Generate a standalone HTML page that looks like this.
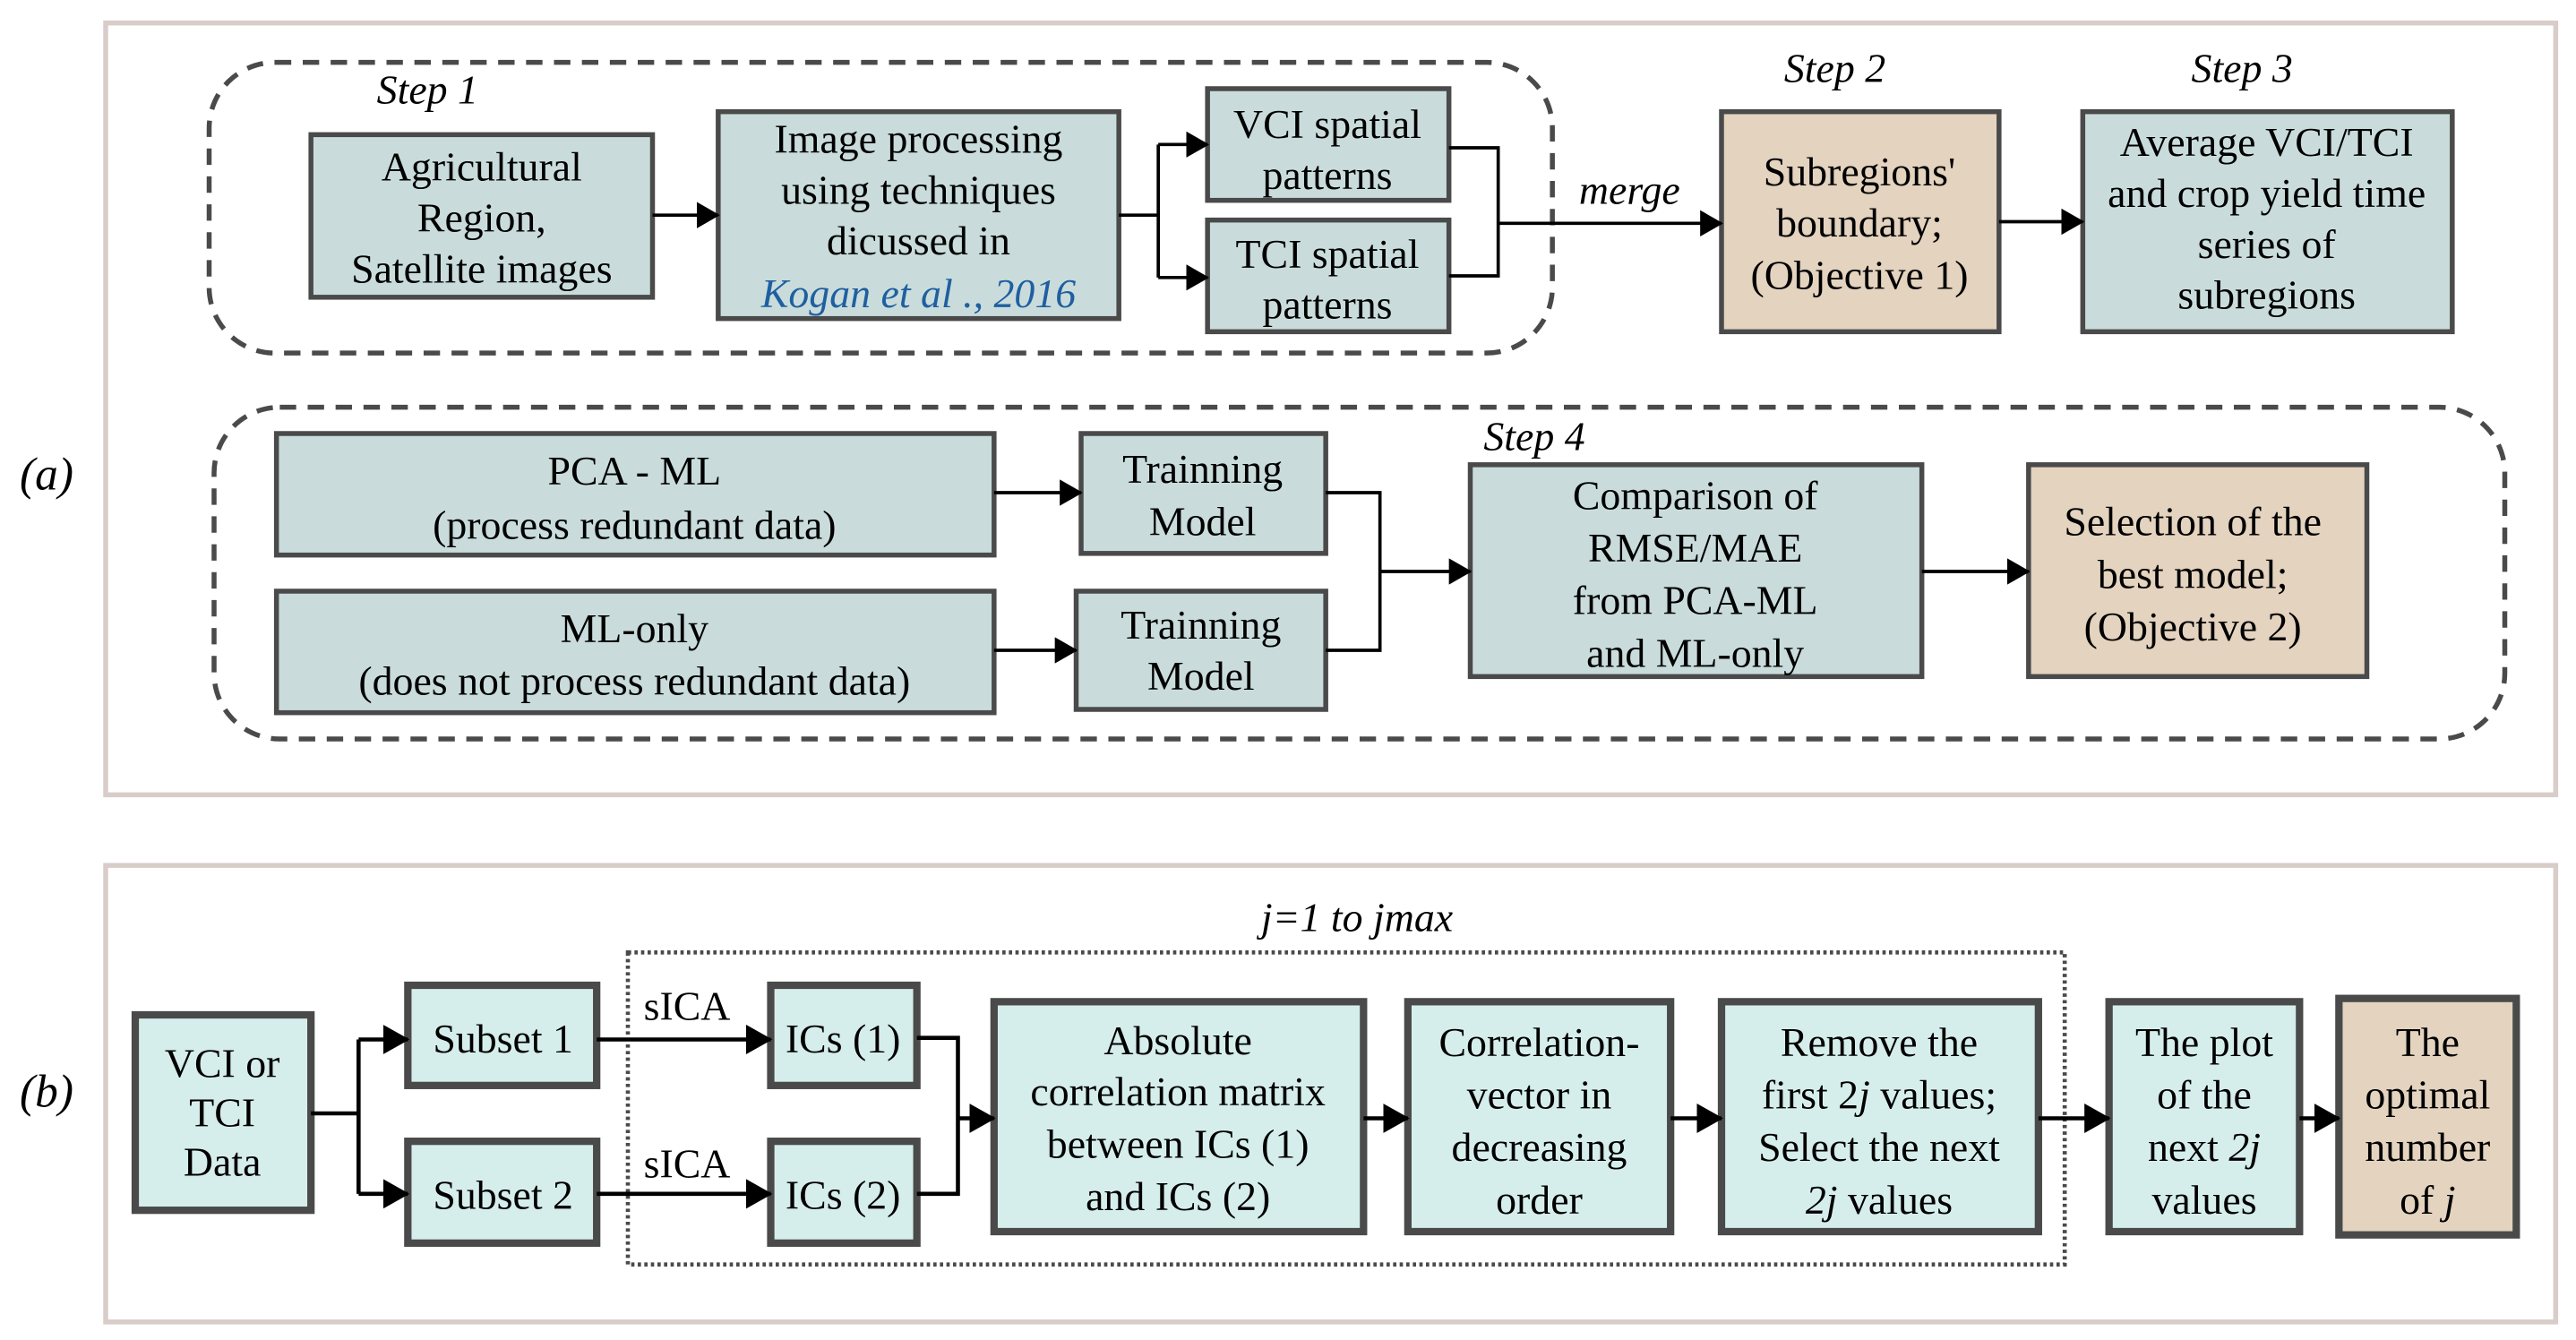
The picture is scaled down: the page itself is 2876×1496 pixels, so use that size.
<!DOCTYPE html>
<html><head><meta charset="utf-8"><style>html,body{margin:0;padding:0;background:#fff}svg{display:block}svg,text{font-family:"Liberation Serif","Times New Roman",serif}</style></head>
<body>
<svg xmlns="http://www.w3.org/2000/svg" width="2876" height="1496" viewBox="0 0 1568 816" style="font-family:'Liberation Serif',serif" font-size="25">
<defs>
<marker id="ar" markerWidth="14" markerHeight="16" refX="13" refY="8" orient="auto" markerUnits="userSpaceOnUse" viewBox="0 0 14 16"><path d="M0,0 L14,8 L0,16z" fill="#000"/></marker>
<marker id="ar2" markerWidth="16" markerHeight="18" refX="15" refY="9" orient="auto" markerUnits="userSpaceOnUse" viewBox="0 0 16 18"><path d="M0,0 L16,9 L0,18z" fill="#000"/></marker>
</defs>
<rect width="1568" height="816" fill="#fff"/>
<rect x="64" y="14" width="1492" height="470" fill="none" stroke="#d8cdc9" stroke-width="3"/>
<rect x="64" y="527" width="1492" height="278" fill="none" stroke="#d8cdc9" stroke-width="3"/>
<g fill="none" stroke="#4a4a4a" stroke-width="3" stroke-dasharray="10,7">
<rect x="127" y="38" width="818" height="177" rx="40"/>
<rect x="130" y="248" width="1395" height="202" rx="40"/>
</g>
<rect x="382" y="580" width="875" height="190" fill="none" stroke="#4a4a4a" stroke-width="2.5" stroke-dasharray="2,2"/>
<g stroke="#4a4a4a" stroke-width="3" fill="#c9dcdb">
<rect x="189" y="82" width="208" height="99"/>
<rect x="437" y="68" width="244" height="126"/>
<rect x="735" y="54" width="147" height="68"/>
<rect x="735" y="134" width="147" height="68"/>
<rect x="1048" y="68" width="169" height="134" fill="#e3d3bf"/>
<rect x="1268" y="68" width="225" height="134"/>
<rect x="168" y="264" width="437" height="74"/>
<rect x="658" y="264" width="149" height="73"/>
<rect x="168" y="360" width="437" height="74"/>
<rect x="655" y="360" width="152" height="72"/>
<rect x="895" y="283" width="275" height="129"/>
<rect x="1235" y="283" width="206" height="129" fill="#e3d3bf"/>
</g>
<g stroke="#4a4a4a" stroke-width="4.5" fill="#d6eeeb">
<rect x="82" y="618" width="107" height="119"/>
<rect x="248" y="600" width="115" height="61"/>
<rect x="248" y="695" width="115" height="62"/>
<rect x="469" y="600" width="89" height="61"/>
<rect x="469" y="695" width="89" height="62"/>
<rect x="605" y="610" width="225" height="140"/>
<rect x="857" y="610" width="160" height="140"/>
<rect x="1048" y="610" width="193" height="140"/>
<rect x="1284" y="610" width="116" height="140"/>
<rect x="1424" y="608" width="108" height="144" fill="#e3d3bf"/>
</g>
<g stroke="#000" stroke-width="2" fill="none">
<line x1="397" y1="131" x2="437" y2="131" marker-end="url(#ar)"/>
<polyline points="681,131 705,131"/>
<polyline points="705,88 705,169"/>
<line x1="705" y1="88" x2="735" y2="88" marker-end="url(#ar)"/>
<line x1="705" y1="169" x2="735" y2="169" marker-end="url(#ar)"/>
<polyline points="882,90 912,90 912,168 882,168"/>
<line x1="912" y1="136" x2="1048" y2="136" marker-end="url(#ar)"/>
<line x1="1217" y1="135" x2="1268" y2="135" marker-end="url(#ar)"/>
<line x1="605" y1="300" x2="658" y2="300" marker-end="url(#ar)"/>
<line x1="605" y1="396" x2="655" y2="396" marker-end="url(#ar)"/>
<polyline points="807,300 840,300 840,396 807,396"/>
<line x1="840" y1="348" x2="895" y2="348" marker-end="url(#ar)"/>
<line x1="1170" y1="348" x2="1235" y2="348" marker-end="url(#ar)"/>
</g>
<g stroke="#000" stroke-width="2.5" fill="none">
<polyline points="189,678 218,678"/>
<polyline points="218,633 218,727"/>
<line x1="218" y1="633" x2="248" y2="633" marker-end="url(#ar2)"/>
<line x1="218" y1="727" x2="248" y2="727" marker-end="url(#ar2)"/>
<line x1="363" y1="633" x2="469" y2="633" marker-end="url(#ar2)"/>
<line x1="363" y1="727" x2="469" y2="727" marker-end="url(#ar2)"/>
<polyline points="558,632 583,632 583,727 558,727"/>
<line x1="583" y1="681" x2="605" y2="681" marker-end="url(#ar2)"/>
<line x1="830" y1="681" x2="857" y2="681" marker-end="url(#ar2)"/>
<line x1="1017" y1="681" x2="1048" y2="681" marker-end="url(#ar2)"/>
<line x1="1241" y1="681" x2="1284" y2="681" marker-end="url(#ar2)"/>
<line x1="1400" y1="681" x2="1424" y2="681" marker-end="url(#ar2)"/>
</g>
<g text-anchor="middle" fill="#000">
<text x="293" y="110">Agricultural</text><text x="293" y="141">Region,</text><text x="293" y="172">Satellite images</text>
<text x="559" y="93">Image processing</text><text x="559" y="124">using techniques</text><text x="559" y="155">dicussed in</text>
<text x="559" y="187" font-style="italic" fill="#1f5fa0">Kogan et al ., 2016</text>
<text x="808" y="84">VCI spatial</text><text x="808" y="115">patterns</text>
<text x="808" y="163">TCI spatial</text><text x="808" y="194">patterns</text>
<text x="1132" y="113">Subregions'</text><text x="1132" y="144">boundary;</text><text x="1132" y="176">(Objective 1)</text>
<text x="1380" y="95">Average VCI/TCI</text><text x="1380" y="126">and crop yield time</text><text x="1380" y="157">series of</text><text x="1380" y="188">subregions</text>
<text x="386" y="295">PCA - ML</text><text x="386" y="328">(process redundant data)</text>
<text x="386" y="391">ML-only</text><text x="386" y="423">(does not process redundant data)</text>
<text x="732" y="294">Trainning</text><text x="732" y="326">Model</text>
<text x="731" y="389">Trainning</text><text x="731" y="420">Model</text>
<text x="1032" y="310">Comparison of</text><text x="1032" y="342">RMSE/MAE</text><text x="1032" y="374">from PCA-ML</text><text x="1032" y="406">and ML-only</text>
<text x="1335" y="326">Selection of the</text><text x="1335" y="358">best model;</text><text x="1335" y="390">(Objective 2)</text>
<text x="1117" y="50" font-style="italic">Step 2</text>
<text x="1365" y="50" font-style="italic">Step 3</text>
<text x="260" y="63" font-style="italic">Step 1</text>
<text x="934" y="274" font-style="italic">Step 4</text>
<text x="992" y="124" font-style="italic">merge</text>
<text x="28" y="298" font-style="italic" font-size="28">(a)</text>
<text x="28" y="674" font-style="italic" font-size="28">(b)</text>
<text x="826" y="567" font-style="italic">j=1 to jmax</text>
<text x="135" y="656">VCI or</text><text x="135" y="686">TCI</text><text x="135" y="716">Data</text>
<text x="306" y="641">Subset 1</text><text x="306" y="736">Subset 2</text>
<text x="418" y="621">sICA</text><text x="418" y="717">sICA</text>
<text x="513" y="641">ICs (1)</text><text x="513" y="736">ICs (2)</text>
<text x="717" y="642">Absolute</text><text x="717" y="673">correlation matrix</text><text x="717" y="705">between ICs (1)</text><text x="717" y="737">and ICs (2)</text>
<text x="937" y="643">Correlation-</text><text x="937" y="675">vector in</text><text x="937" y="707">decreasing</text><text x="937" y="739">order</text>
<text x="1144" y="643">Remove the</text><text x="1144" y="675">first  2<tspan font-style="italic">j</tspan> values;</text><text x="1144" y="707">Select the next</text><text x="1144" y="739"><tspan font-style="italic">2j</tspan> values</text>
<text x="1342" y="643">The plot</text><text x="1342" y="675">of the</text><text x="1342" y="707">next <tspan font-style="italic">2j</tspan></text><text x="1342" y="739">values</text>
<text x="1478" y="643">The</text><text x="1478" y="675">optimal</text><text x="1478" y="707">number</text><text x="1478" y="739">of <tspan font-style="italic">j</tspan></text>
</g>
</svg>
</body></html>
